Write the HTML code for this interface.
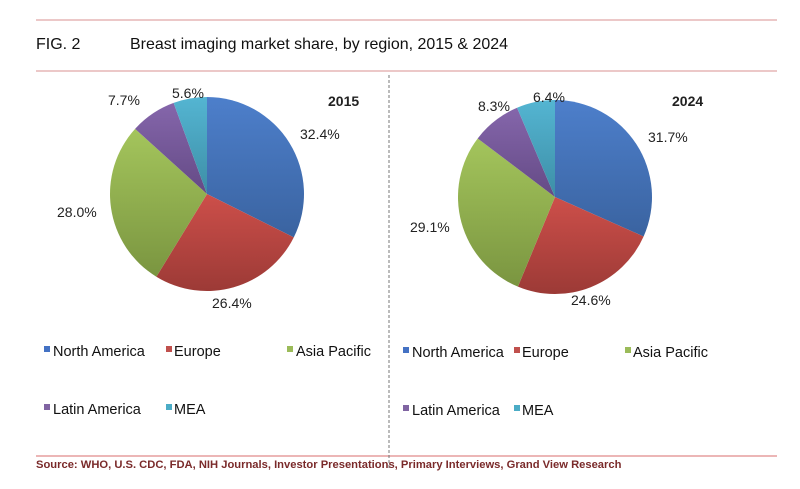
<!DOCTYPE html>
<html><head><meta charset="utf-8"><style>
body{margin:0;width:800px;height:484px;background:#fff;overflow:hidden;font-family:"Liberation Sans",Arial,sans-serif}
</style></head><body>
<svg id="s" width="800" height="484" xmlns="http://www.w3.org/2000/svg" font-family="Liberation Sans, Arial, sans-serif">
<defs>
<linearGradient id="g0" x1="0" y1="0" x2="0" y2="1"><stop offset="0" stop-color="#4d7fcb"/><stop offset="1" stop-color="#3a63a0"/></linearGradient>
<linearGradient id="g1" x1="0" y1="0" x2="0" y2="1"><stop offset="0" stop-color="#cd4f4a"/><stop offset="1" stop-color="#9c3a36"/></linearGradient>
<linearGradient id="g2" x1="0" y1="0" x2="0" y2="1"><stop offset="0" stop-color="#a4c55c"/><stop offset="1" stop-color="#7a9540"/></linearGradient>
<linearGradient id="g3" x1="0" y1="0" x2="0" y2="1"><stop offset="0" stop-color="#8566ab"/><stop offset="1" stop-color="#644a85"/></linearGradient>
<linearGradient id="g4" x1="0" y1="0" x2="0" y2="1"><stop offset="0" stop-color="#54b5d2"/><stop offset="1" stop-color="#3d8ea6"/></linearGradient>
</defs>
<line x1="36" y1="20" x2="777" y2="20" stroke="#e0a8a8" stroke-width="1.2"/>
<line x1="36" y1="71" x2="777" y2="71" stroke="#e0a8a8" stroke-width="1.2"/>
<line x1="36" y1="456" x2="777" y2="456" stroke="#e08a8a" stroke-width="1.2"/>
<line x1="389" y1="75" x2="389" y2="470" stroke="#777" stroke-width="1" stroke-dasharray="3,2"/>
<text x="36" y="49" font-size="16" fill="#111">FIG. 2</text>
<text x="130" y="49" font-size="16" fill="#111" textLength="378" lengthAdjust="spacingAndGlyphs">Breast imaging market share, by region, 2015 &amp; 2024</text>
<g id="p1"></g><g id="p2"></g>
<g font-size="14" fill="#222">
<text x="300" y="139">32.4%</text><text x="212" y="308">26.4%</text><text x="57" y="217">28.0%</text>
<text x="108" y="105">7.7%</text><text x="172" y="98">5.6%</text>
<text x="328" y="106" font-weight="bold">2015</text>
<text x="648" y="142">31.7%</text><text x="571" y="305">24.6%</text><text x="410" y="232">29.1%</text>
<text x="478" y="111">8.3%</text><text x="533" y="102">6.4%</text>
<text x="672" y="106" font-weight="bold">2024</text>
</g>
<g font-size="14.5" fill="#111">
<rect x="44" y="346" width="6" height="6" fill="#4472c4"/><text x="53" y="356">North America</text>
<rect x="166" y="346" width="6" height="6" fill="#c0504d"/><text x="174" y="356">Europe</text>
<rect x="287" y="346" width="6" height="6" fill="#9bbb59"/><text x="296" y="356">Asia Pacific</text>
<rect x="44" y="404" width="6" height="6" fill="#8064a2"/><text x="53" y="414">Latin America</text>
<rect x="166" y="404" width="6" height="6" fill="#4bacc6"/><text x="174" y="414">MEA</text>
<rect x="403" y="347" width="6" height="6" fill="#4472c4"/><text x="412" y="357">North America</text>
<rect x="514" y="347" width="6" height="6" fill="#c0504d"/><text x="522" y="357">Europe</text>
<rect x="625" y="347" width="6" height="6" fill="#9bbb59"/><text x="633" y="357">Asia Pacific</text>
<rect x="403" y="405" width="6" height="6" fill="#8064a2"/><text x="412" y="415">Latin America</text>
<rect x="514" y="405" width="6" height="6" fill="#4bacc6"/><text x="522" y="415">MEA</text>
</g>
<text x="36" y="468" font-size="11.2" font-weight="bold" fill="#7a2a2a">Source: WHO, U.S. CDC, FDA, NIH Journals, Investor Presentations, Primary Interviews, Grand View Research</text>
</svg>
<script>
function pie(id,cx,cy,r,vals){var g=document.getElementById(id),a=0,t=vals.reduce((x,y)=>x+y,0),h='';
vals.forEach(function(v,i){var a2=a+v/t*2*Math.PI;
var x1=cx+r*Math.sin(a),y1=cy-r*Math.cos(a),x2=cx+r*Math.sin(a2),y2=cy-r*Math.cos(a2);
h+='<path d="M'+cx+','+cy+'L'+x1+','+y1+'A'+r+','+r+' 0 '+(a2-a>Math.PI?1:0)+' 1 '+x2+','+y2+'Z" fill="url(#g'+i+')"/>';a=a2;});
g.innerHTML=h;}
pie('p1',207,194,97,[32.4,26.4,28.0,7.7,5.6]);
pie('p2',555,197,97,[31.7,24.6,29.1,8.3,6.4]);
</script>
</body></html>
